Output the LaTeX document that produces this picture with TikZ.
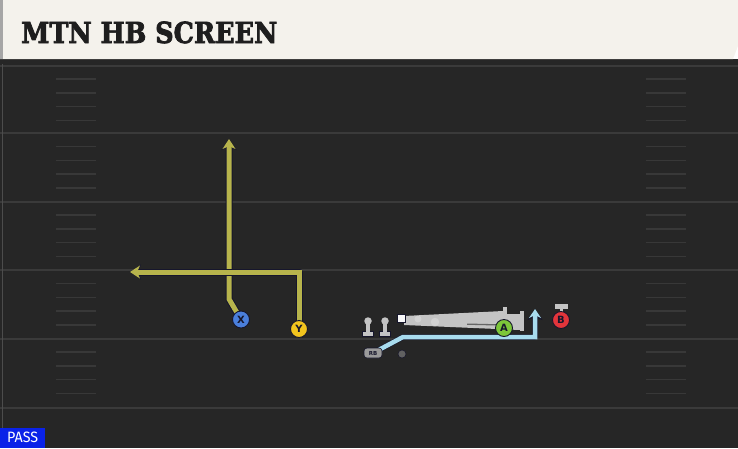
\documentclass[tikz,border=0pt]{standalone}
\usepackage{fontspec}
\setmainfont{DejaVu Sans}
\font\titlefnt="DejaVu Serif/B:embolden=2.5;extend=0.88" at 29pt
\newfontfamily\labfont{DejaVu Sans}
\newfontfamily\passfont{Fira Sans}
\usetikzlibrary{arrows.meta,backgrounds}
\definecolor{banner}{HTML}{F4F2EC}
\definecolor{fieldbg}{HTML}{262626}
\definecolor{yard}{HTML}{3A3A3A}
\definecolor{hashc}{HTML}{383838}
\definecolor{routeY}{HTML}{B7B44C}
\definecolor{routeB}{HTML}{A8DCEE}
\definecolor{outl}{HTML}{16162C}
\definecolor{xblue}{HTML}{4A7FDC}
\definecolor{yyel}{HTML}{F2C41E}
\definecolor{agreen}{HTML}{7CC63A}
\definecolor{bred}{HTML}{E2353B}
\definecolor{lgray}{HTML}{C4C4C4}
\definecolor{lgray2}{HTML}{D2D2D2}
\definecolor{mgray}{HTML}{9A9A9A}
\definecolor{passblue}{HTML}{0A22E8}
\definecolor{titlec}{HTML}{1E1E1E}
\colorlet{dotgray}{black!62}
\tikzset{
  player/.style={circle, minimum size=17pt, inner sep=0pt, draw=outl, line width=0.9pt,
    font=\labfont\bfseries\fontsize{10}{10}\selectfont, text=outl},
  rbbox/.style={rounded corners=3pt, fill=mgray, draw=outl, line width=0.6pt, minimum width=18pt,
    minimum height=10pt, inner sep=0pt, font=\labfont\bfseries\fontsize{5.5}{5.5}\selectfont, text=outl},
  cdot/.style={circle, fill=dotgray, minimum size=8pt, inner sep=0pt, draw=outl, line width=0.5pt},
  routeo/.style={line width=7pt, color=outl, line join=round, -{Stealth[length=11pt,width=15pt,inset=3pt]}},
  routey/.style={line width=5pt, color=routeY, -{Stealth[length=10pt,width=13pt,inset=3pt]}},
  routeb/.style={line width=4.5pt, color=routeB, -{Stealth[length=9pt,width=12pt,inset=3pt]}},
  yardline/.style={line width=2pt, color=yard},
  hashmark/.style={line width=1.5pt, color=hashc},
  blockc/.style={fill=lgray, draw=none},
}
\begin{document}
\begin{tikzpicture}[x=1pt,y=-1pt]
\useasboundingbox (0,0) rectangle (738,448);
% players
\node[player,fill=xblue] (X) at (241,319.5) {X};
\node[player,fill=yyel] (Y) at (299,329) {Y};
\node[rbbox] (RB) at (373,353) {RB};
\node[cdot] (C) at (402,354) {};
\coordinate (xk) at (229,299);
\coordinate (xe) at (229,139);
\coordinate (yk) at (299,272);
\coordinate (ye) at (130,272);
\coordinate (rk) at (403,337);
\coordinate (rk2) at (535,337);
\coordinate (re) at (535,309);
\begin{scope}[on background layer]
  \fill[fieldbg] (0,59) rectangle (738,448);
  \fill[black!85] (0,59) rectangle (738,64);
  \foreach \yy in {65.5,133,201.5,270,338.5,408} \draw[yardline] (0,\yy) -- (738,\yy);
  \foreach \yy in {65.5,133,201.5,270,338.5} {
    \foreach \k in {1,2,3,4} {
      \draw[hashmark] (56,\yy+\k*13.7) -- (96,\yy+\k*13.7);
      \draw[hashmark] (646,\yy+\k*13.7) -- (686,\yy+\k*13.7);
    }
  }
  \draw[line width=1pt, black!70] (2.5,64) -- (2.5,448);
  % routes
  \draw[routeo] (X.center) -- (xk) -- (xe);
  \draw[routey] (X.center) -- (xk) -- (xe);
  \draw[routeo] (Y.center) -- (yk) -- (ye);
  \draw[routey] (Y.center) -- (yk) -- (ye);
  \draw[routeo, line width=5.5pt] (RB.center) -- (rk) -- (rk2) -- (re);
  \draw[routeb] (RB.center) -- (rk) -- (rk2) -- (re);
\end{scope}
% banner
\fill[banner] (0,0) -- (738,0) -- (738,46) -- (733,59) -- (0,59) -- cycle;
\fill[black!35] (0,0) rectangle (2.5,59);
\node[anchor=base west, inner sep=0pt, text=titlec] (title) at (21,43)
  {\titlefnt MTN HB SCREEN};
% linemen
\foreach \lx/\nm in {368/la,385/lb} {
  \fill[lgray, draw=outl, line width=0.5pt] (\lx-5.5,331) rectangle (\lx+5.5,336);
  \fill[lgray] (\lx-2,322) rectangle (\lx+2,331.5);
  \node[circle, fill=lgray, minimum size=7.5pt, inner sep=0pt] (\nm) at (\lx,321) {};
}
% blocking blob
\fill[blockc] (404,316) -- (503,311) -- (503,314) -- (520,314) -- (520,330) -- (404,325) -- cycle;
\fill[black!60] (467,323.5) -- (510,324.5) -- (510,325.8) -- (467,324.8) -- cycle;
\fill[lgray] (503,307) rectangle (507,320);
\fill[lgray] (519.5,311) rectangle (523.5,331);
\node[circle, fill=lgray2, minimum size=7pt, inner sep=0pt] (c1) at (418,319) {};
\node[circle, fill=lgray2, minimum size=8.5pt, inner sep=0pt] (c2) at (435,322) {};
\node[rectangle, fill=white!90!lgray, draw=outl, line width=0.4pt, minimum size=8pt, inner sep=0pt] (sq) at (401.5,318) {};
\node[player,fill=agreen] (A) at (504,328) {A};
% B with block bar
\fill[lgray] (554.5,304) rectangle (567.5,308.5);
\fill[lgray] (559.5,308) rectangle (562.5,313);
\node[player,fill=bred] (B) at (561,320) {B};
% PASS
\node[fill=passblue, text=white, anchor=south west, minimum width=45pt, minimum height=20pt,
  inner sep=0pt, font=\passfont\fontsize{15}{15}\selectfont] (pass) at (0,448) {\scalebox{0.95}[1]{PASS}};
\end{tikzpicture}
\end{document}
